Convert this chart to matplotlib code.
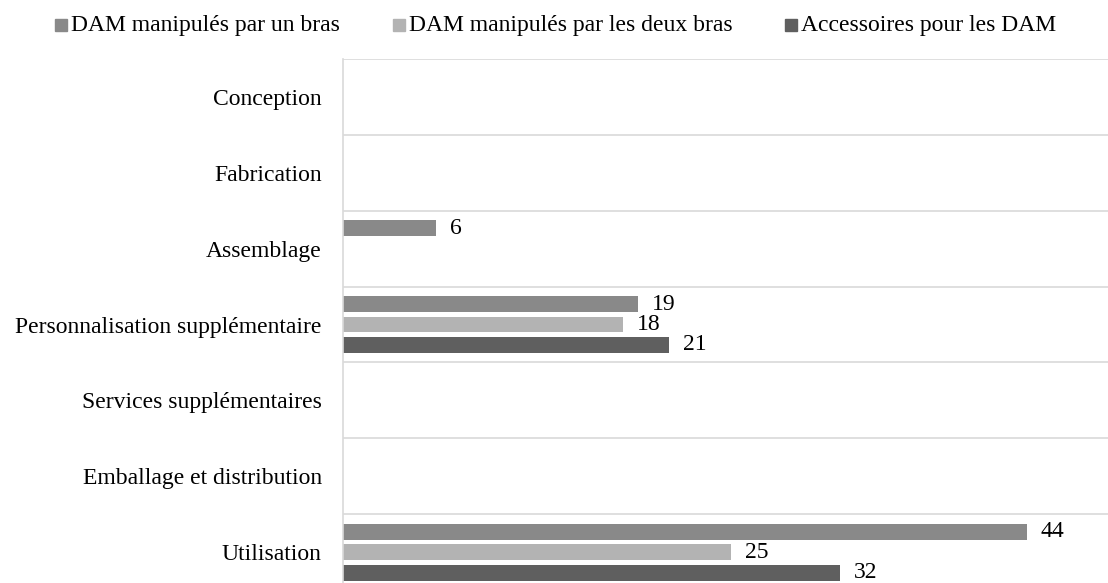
import numpy as np
import matplotlib.pyplot as plt
from matplotlib.patches import Rectangle

# adatok
categories = ["Conception", "Fabrication", "Assemblage", "Personnalisation supplémentaire",
              "Services supplémentaires", "Emballage et distribution", "Utilisation"]
series_names = ["DAM manipulés par un bras", "DAM manipulés par les deux bras", "Accessoires pour les DAM"]
un_bras = [np.nan, np.nan, 6, 19, np.nan, np.nan, 44]
deux_bras = [np.nan, np.nan, np.nan, 18, np.nan, np.nan, 25]
accessoires = [np.nan, np.nan, np.nan, 21, np.nan, np.nan, 32]
colors = ["#898989", "#b3b3b3", "#5f5f5f"]

plt.rcParams['font.family'] = ['Liberation Serif', 'DejaVu Serif']
fs = 17

W, H = 1108, 583
fig = plt.figure(figsize=(W / 100, H / 100), dpi=100)
ax = fig.add_axes([342.5 / W, -7 / H, 1 - 342.5 / W, (590 - 59) / H])

y = np.arange(len(categories))
offset = 0.27
height = 0.21
for i, (vals, color) in enumerate(zip([un_bras, deux_bras, accessoires], colors)):
    pos = y + (i - 1) * offset
    ax.barh(pos, vals, height=height, color=color)
    for p, v in zip(pos, vals):
        if not np.isnan(v):
            ax.annotate(f"{v:g}", (v, p), xytext=(10, 0), textcoords='offset points',
                        va='center', ha='left', fontsize=fs)

ax.set_xlim(0, 49.2)
ax.set_ylim(len(categories) - 0.5, -0.5)
ax.set_yticks(y)
ax.set_yticklabels(categories, fontsize=fs)
ax.tick_params(axis='y', length=0, pad=15)
ax.set_xticks([])

# határvonalak a kategóriák között
for b in np.arange(-0.5, len(categories) - 0.5):
    ax.axhline(b, color='#d9d9d9', linewidth=1.2)

for side in ['top', 'right', 'bottom']:
    ax.spines[side].set_visible(False)
ax.spines['left'].set_color('#d9d9d9')
ax.spines['left'].set_linewidth(1.2)

# jelmagyarázat kézzel elhelyezve
legend_x = [55, 393, 785]
sq = 12
for lx, c, name in zip(legend_x, colors, series_names):
    fig.patches.append(Rectangle((lx / W, (H - 25 - sq / 2) / H), sq / W, sq / H,
                                 transform=fig.transFigure, color=c))
    fig.text((lx + sq + 4) / W, (H - 25) / H, name, fontsize=fs, va='center', ha='left')

fig.savefig("out.png", dpi=100)
